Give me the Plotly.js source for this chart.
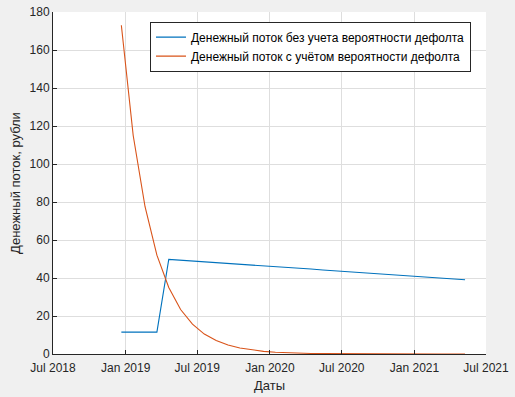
<!DOCTYPE html>
<html>
<head>
<meta charset="utf-8">
<script src="https://cdn.plot.ly/plotly-3.0.1.min.js"></script>
<style>html,body{margin:0;padding:0;background:#f0f0f0;}#chart{width:515px;height:397px;}</style>
</head>
<body>
<div id="chart"></div>
<script>
const dates = ["2018-12-21","2019-01-20","2019-02-19","2019-03-21","2019-04-20","2019-05-20","2019-06-19","2019-07-19","2019-08-18","2019-09-17","2019-10-17","2019-11-16","2019-12-16","2020-01-15","2020-02-14","2020-03-15","2020-04-14","2020-05-14","2020-06-13","2020-07-13","2020-08-12","2020-09-11","2020-10-11","2020-11-10","2020-12-10","2021-01-09","2021-02-08","2021-03-10","2021-04-09","2021-05-09"];
const flowNoDefault = [11.5,11.5,11.5,11.5,49.8,49.4,48.9,48.5,48.1,47.7,47.2,46.8,46.4,45.9,45.5,45.1,44.7,44.2,43.8,43.4,43.0,42.5,42.1,41.7,41.2,40.8,40.4,40.0,39.5,39.1];
const flowWithDefault = [173,115,77.5,52,35,23.4,15.7,10.5,7.1,4.7,3.2,2.1,1.4,0.95,0.64,0.43,0.29,0.19,0.13,0.09,0.06,0.04,0.03,0.02,0.013,0.009,0.006,0.004,0.003,0.002];
const seriesNames = ["Денежный поток без учета вероятности дефолта","Денежный поток с учётом вероятности дефолта"];
const xTitle = "Даты";
const yTitle = "Денежный поток, рубли";

const fam = "Liberation Sans, Arial, sans-serif";
const traces = [
  {x: dates, y: flowNoDefault, name: seriesNames[0], mode: "lines", line: {color: "#0072BD", width: 1.1}},
  {x: dates, y: flowWithDefault, name: seriesNames[1], mode: "lines", line: {color: "#D95319", width: 1.1}}
];
const layout = {
  width: 515, height: 397,
  margin: {l: 53, r: 29, t: 12, b: 43},
  paper_bgcolor: "#f0f0f0",
  plot_bgcolor: "#ffffff",
  font: {family: fam, size: 12, color: "#262626"},
  showlegend: true,
  legend: {x: 0.224, y: 0.972, xanchor: "left", yanchor: "top", bgcolor: "#ffffff", bordercolor: "#262626", borderwidth: 1, font: {family: fam, size: 12, color: "#000000"}, tracegroupgap: 0, itemwidth: 30},
  xaxis: {
    type: "date", range: ["2018-07-01", "2021-07-01"], dtick: "M6", tick0: "2018-07-01", tickformat: "%b %Y",
    showgrid: true, gridcolor: "#dedede", gridwidth: 1,
    showline: true, linecolor: "#262626", linewidth: 1, mirror: false,
    ticks: "inside", ticklen: 4, tickcolor: "#262626", zeroline: false,
    ticklabelstandoff: 3,
    title: {text: xTitle, font: {family: fam, size: 13, color: "#262626"}, standoff: 6},
    tickfont: {family: fam, size: 12, color: "#262626"}
  },
  yaxis: {
    range: [0, 180], dtick: 20,
    showgrid: true, gridcolor: "#dedede", gridwidth: 1,
    showline: true, linecolor: "#262626", linewidth: 1, mirror: false,
    ticks: "inside", ticklen: 4, tickcolor: "#262626", zeroline: false,
    title: {text: yTitle, font: {family: fam, size: 13, color: "#262626"}, standoff: 6},
    tickfont: {family: fam, size: 12, color: "#262626"}
  }
};
Plotly.newPlot("chart", traces, layout, {displayModeBar: false, staticPlot: true});
</script>
</body>
</html>
